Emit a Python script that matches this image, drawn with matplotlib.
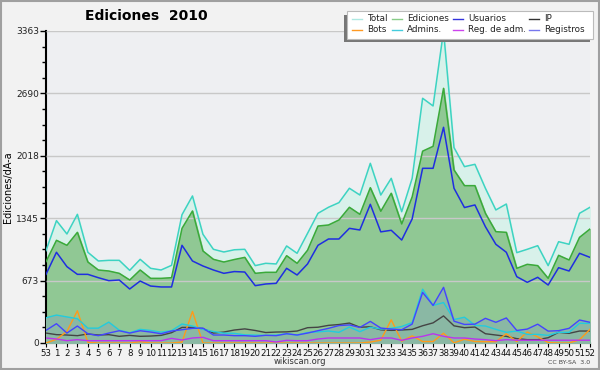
import numpy as np
import matplotlib
matplotlib.use("Agg")
import matplotlib.pyplot as plt
from matplotlib.ticker import FixedLocator
from matplotlib.patches import Rectangle

weeks = ["53"] + [str(w) for w in range(1, 53)]

total = [995, 1319, 1175, 1387, 978, 884, 891, 891, 783, 902, 805, 787, 837, 1383, 1585,
         1172, 1010, 981, 1005, 1010, 834, 859, 852, 1046, 967, 1182, 1398, 1463, 1513,
         1668, 1595, 1937, 1595, 1775, 1415, 1775, 2638, 2555, 3363, 2106, 1901, 1926,
         1668, 1434, 1498, 974, 1010, 1049, 834, 1092, 1064, 1398, 1463]
ediciones = [877, 1107, 1053, 1193, 873, 787, 776, 751, 679, 787, 697, 697, 704, 1236, 1423,
             992, 902, 873, 900, 923, 751, 762, 762, 941, 859, 1000, 1261, 1272, 1326,
             1463, 1387, 1674, 1420, 1614, 1283, 1575, 2068, 2120, 2745, 1865, 1696, 1696,
             1398, 1200, 1193, 805, 848, 834, 697, 945, 895, 1139, 1229]
usuarios = [740, 978, 823, 740, 740, 704, 672, 679, 582, 668, 614, 604, 604, 1053, 884,
            830, 787, 751, 770, 765, 618, 636, 643, 805, 733, 852, 1053, 1121, 1121,
            1236, 1218, 1495, 1198, 1215, 1110, 1337, 1883, 1883, 2325, 1668, 1460, 1488,
            1254, 1064, 978, 715, 654, 708, 625, 812, 776, 967, 923]
ip = [107, 90, 86, 79, 97, 86, 90, 72, 82, 72, 75, 82, 111, 168, 168,
      154, 107, 118, 140, 152, 135, 113, 118, 120, 129, 165, 170, 190, 199,
      215, 170, 175, 142, 136, 140, 147, 186, 217, 292, 185, 165, 172,
      100, 86, 72, 47, 36, 36, 57, 115, 104, 129, 129]
bots = [0, 40, 125, 347, 7, 0, 0, 0, 0, 14, 0, 0, 0, 10, 340,
        0, 0, 0, 0, 0, 0, 0, 0, 0, 0, 0, 0, 0, 0,
        0, 0, 10, 30, 250, 20, 77, 16, 16, 105, 2, 40, 16,
        14, 14, 100, 15, 118, 66, 5, 0, 0, 35, 148]
admins = [272, 301, 281, 262, 160, 160, 225, 138, 110, 147, 135, 117, 133, 205, 183,
          147, 124, 106, 104, 88, 85, 82, 85, 100, 85, 113, 120, 129, 115,
          172, 122, 170, 150, 158, 178, 220, 580, 405, 436, 253, 278, 190,
          183, 147, 115, 129, 93, 93, 82, 115, 115, 212, 212]
reg_adm = [54, 43, 25, 36, 25, 25, 25, 25, 25, 25, 25, 25, 50, 32, 54,
           61, 25, 25, 25, 25, 25, 25, 11, 29, 25, 25, 43, 54, 54,
           54, 54, 36, 54, 54, 29, 54, 72, 100, 72, 54, 54, 43,
           36, 25, 36, 30, 30, 30, 30, 30, 30, 30, 30]
registros = [136, 208, 107, 183, 100, 79, 107, 132, 107, 132, 118, 100, 129, 143, 158,
             161, 86, 86, 79, 79, 72, 83, 79, 100, 86, 107, 133, 158, 188,
             195, 168, 233, 161, 150, 143, 204, 545, 405, 600, 235, 200, 203,
             266, 223, 270, 135, 150, 203, 128, 133, 158, 248, 223]

yticks = [0, 673, 1345, 2018, 2690, 3363]

x = np.arange(len(weeks))

fig = plt.figure(figsize=(6, 3.7), dpi=100, facecolor="#f2f2f2")
fig.patches.append(Rectangle((0.002, 0.003), 0.996, 0.994, transform=fig.transFigure,
                             fill=False, edgecolor="#a0a0a0", linewidth=1.5))
ax = fig.add_axes([46/600, 1-343/370, 544/600, 312/370])
ax.set_facecolor("#eeeff2")

ax.fill_between(x, 0, total, color="#d8f1ea", zorder=1)
ax.fill_between(x, 0, ediciones, color="#90c894", zorder=2)
low_top = np.maximum(np.array(registros), np.array(admins))
ax.fill_between(x, 0, low_top, color="#8ab8a4", zorder=3)

ax.plot(x, total, color="#3dd3c2", lw=1.1, zorder=5)
ax.plot(x, ediciones, color="#3aaa3a", lw=1.1, zorder=5)
ax.plot(x, usuarios, color="#1f2ee0", lw=1.1, zorder=6)
ax.plot(x, ip, color="#444444", lw=1.0, zorder=6)
ax.plot(x, bots, color="#ff9a1a", lw=1.0, zorder=6)
ax.plot(x, admins, color="#22ccdd", lw=1.0, zorder=6)
ax.plot(x, reg_adm, color="#bb33ee", lw=1.0, zorder=6)
ax.plot(x, registros, color="#4444ff", lw=1.0, zorder=7)

ax.set_xlim(0, len(weeks) - 1)
ax.set_ylim(0, 3363)
ax.set_yticks(yticks)
ax.set_yticklabels([str(v) for v in yticks], fontsize=6.5, color="#222222")
minor = []
for a, b in zip(yticks[:-1], yticks[1:]):
    for k in range(1, 4):
        minor.append(a + (b - a) * k / 4)
ax.yaxis.set_minor_locator(FixedLocator(minor))
ax.tick_params(axis="y", which="major", length=4, width=1, pad=1, direction="out")
ax.tick_params(axis="y", which="minor", length=3, width=1, direction="out")
ax.set_xticks(x)
ax.set_xticklabels(weeks, fontsize=6.2, color="#111111")
ax.tick_params(axis="x", length=3, width=0.8, pad=1, direction="out")
ax.grid(axis="y", color="#c8c8c8", lw=1, zorder=0)
ax.set_axisbelow(False)
for gl in ax.get_ygridlines():
    gl.set_zorder(4)

for s in ["top", "right"]:
    ax.spines[s].set_visible(False)
ax.spines["left"].set_linewidth(1.5)
ax.spines["bottom"].set_linewidth(1.5)

ax.set_ylabel("Ediciones/dÃ-a", fontsize=7, labelpad=2)

fig.text(0.142, 1 - 16/370, "Ediciones  2010", fontsize=10, fontweight="bold", ha="left",
         va="center")

# legend box with shadow (shadow offset down-left)
lx0, ly0, lw_, lh_ = 347/600, 1-38.5/370, 246/600, 27/370
fig.patches.append(Rectangle((lx0 - 3.5/600, ly0 - 3.5/370), lw_, lh_, transform=fig.transFigure,
                             facecolor="#777777", edgecolor="none", zorder=10))
fig.patches.append(Rectangle((lx0, ly0), lw_, lh_, transform=fig.transFigure,
                             facecolor="white", edgecolor="#bbbbbb", lw=0.8, zorder=11))
leg_items = [
    ("Total", "#aee9e2", 352, 18.5), ("Ediciones", "#88cc88", 392, 18.5),
    ("Usuarios", "#3333dd", 453, 18.5), ("IP", "#333333", 529, 18.5),
    ("Bots", "#ff9922", 352, 29.5), ("Admins.", "#44ccdd", 392, 29.5),
    ("Reg. de adm.", "#cc44ee", 453, 29.5), ("Registros", "#7777ee", 529, 29.5),
]
for label, col, px, py in leg_items:
    yy = 1 - py / 370
    fig.add_artist(plt.Line2D([px/600, (px + 10)/600], [yy, yy], transform=fig.transFigure,
                              color=col, lw=1, zorder=12))
    fig.text((px + 15)/600, yy, label, fontsize=6.3, va="center", ha="left", zorder=12,
             color="#222222")

fig.text(0.5, 1 - 362/370, "wikiscan.org", fontsize=6, ha="center", va="center", color="#333333")
fig.text(1 - 10/600, 1 - 362/370, "CC BY-SA  3.0", fontsize=4.5, ha="right", va="center",
         color="#444444")

fig.savefig("out.png", dpi=100, facecolor=fig.get_facecolor())
